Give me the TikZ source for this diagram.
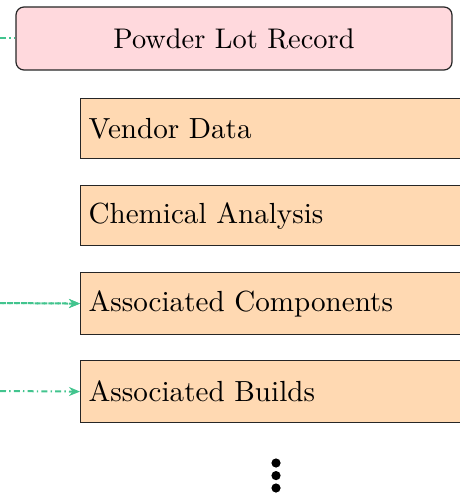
\documentclass[tikz,border=0pt]{standalone}
\usetikzlibrary{arrows.meta}
\definecolor{pinkfill}{RGB}{255,217,221}
\definecolor{peach}{RGB}{255,217,178}
\definecolor{linkgreen}{RGB}{66,196,142}
\newcommand{\rectxt}[1]{\scalebox{1.455}{#1}}
\newcommand{\toptxt}[1]{\scalebox{1.42}{#1}}
\tikzset{
  recbox/.style={draw=black!85, line width=0.6pt, fill=peach, rectangle, anchor=north west,
    minimum width=230pt, text width=222pt, align=left, inner xsep=3.9pt, font=\normalsize},
  topbox/.style={draw=black!85, line width=0.6pt, fill=pinkfill, rounded corners=4pt,
    minimum width=218pt, minimum height=31.5pt, font=\normalsize},
  linkline/.style={draw=linkgreen, line width=1pt, dash pattern=on 3pt off 1.6pt on 0.7pt off 1.6pt},
  link/.style={linkline, -{Stealth[length=5.5pt,width=4.5pt]}},
  dotmark/.style={circle, fill=black, inner sep=0pt, minimum size=4.6pt}
}
\begin{document}
\begin{tikzpicture}[x=1pt,y=1pt]
\useasboundingbox (0,0) rectangle (229.5,-248);
\node[topbox] (plr) at (117,-19.25) {\toptxt{Powder Lot Record}};
\node[recbox, minimum height=30pt] (vd) at (40,-49) {\rectxt{Vendor Data}};
\node[recbox, minimum height=30pt] (ca) at (40,-92.5) {\rectxt{Chemical Analysis}};
\node[recbox, minimum height=31pt] (ac) at (40,-136) {\rectxt{Associated Components}};
\node[recbox, minimum height=31pt] (ab) at (40,-180) {\rectxt{Associated Builds}};
\node[dotmark] (d1) at (138,-231.5) {};
\node[dotmark] (d2) at (138,-237.8) {};
\node[dotmark] (d3) at (138,-244) {};
\coordinate (s0) at (0,-19.25);
\coordinate (s1) at (0,-151.5);
\coordinate (s2) at (0,-195.5);
\draw[linkline] (s0) -- (plr.west);
\draw[link] (s1) -- (ac.west);
\draw[link, dash phase=3.4pt] (s1) -- (ac.west);
\draw[link] (s2) -- (ab.west);
\end{tikzpicture}
\end{document}
